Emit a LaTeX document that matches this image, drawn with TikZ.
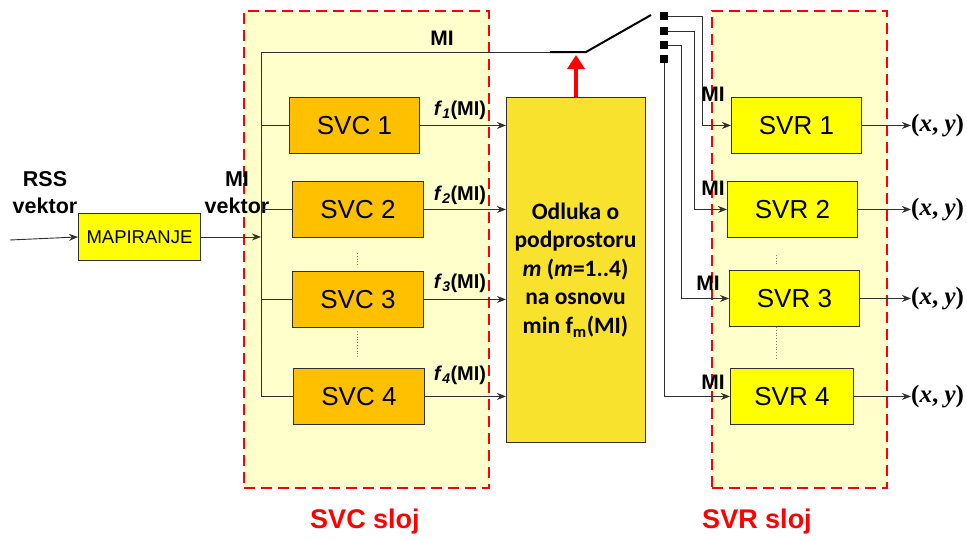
\documentclass[tikz,border=0pt]{standalone}
\usepackage{fontspec}
\setmainfont{Liberation Sans}
\newfontfamily\calfont{Carlito}
\newfontfamily\timesfont{Liberation Serif}
\usetikzlibrary{arrows.meta,calc}
\definecolor{layerbg}{HTML}{FFFFCC}
\definecolor{svcfill}{HTML}{FFC000}
\definecolor{decfill}{HTML}{F9E22E}
\definecolor{svrfill}{HTML}{FFFF00}
\definecolor{linegray}{HTML}{303030}
\begin{document}
\begin{tikzpicture}[x=1pt,y=-1pt,
  layer/.style={draw=red,fill=layerbg,dash pattern=on 11pt off 6pt,line width=1.8pt},
  svcbox/.style={draw=linegray,fill=svcfill,line width=0.9pt,minimum width=130pt,minimum height=56pt,anchor=north west,inner sep=0pt,font=\fontsize{26}{30}\selectfont},
  svrbox/.style={draw=linegray,fill=svrfill,line width=0.9pt,minimum height=56pt,anchor=north west,inner sep=0pt,font=\fontsize{26}{30}\selectfont},
  arr/.style={draw=linegray,line width=0.9pt,-{Stealth[length=9pt,width=7pt]}},
  wire/.style={draw=linegray,line width=0.9pt},
  lbl/.style={font=\bfseries\fontsize{21}{22}\selectfont,inner sep=0pt},
  flbl/.style={font=\bfseries\fontsize{20}{22}\selectfont,inner sep=0pt},
  outlbl/.style={font=\timesfont\bfseries\fontsize{25}{28}\selectfont,inner sep=0pt,anchor=west},
  contact/.style={fill=black,minimum size=8pt,inner sep=0pt},
  dots/.style={draw=gray,line width=0.8pt,dotted},
  layername/.style={font=\bfseries\fontsize{27}{30}\selectfont,text=red}
]
\useasboundingbox (0,0) rectangle (967,541);
% layers
\node[layer,minimum width=245pt,minimum height=477pt,anchor=north west,inner sep=0pt] (svclayer) at (243,10) {};
\node[layer,minimum width=175pt,minimum height=477pt,anchor=north west,inner sep=0pt] (svrlayer) at (711,10) {};
\node[layername] (svcname) at (365,522) {SVC sloj};
\node[layername] (svrname) at (757,522) {SVR sloj};
% input
\node[draw=linegray,fill=svrfill,line width=0.9pt,minimum width=122pt,minimum height=47pt,anchor=north west,inner sep=0pt,font=\fontsize{18.5}{20}\selectfont] (map) at (78,213) {MAPIRANJE};
\coordinate (in) at (10,240);
\draw[arr] (in) -- (map.west);
\node[font=\bfseries\fontsize{21.5}{27}\selectfont,align=center,inner sep=0pt] (rss) at (45,193) {RSS\\vektor};
\node[font=\bfseries\fontsize{21.5}{27}\selectfont,align=center,inner sep=0pt] (miv) at (237,193) {MI\\vektor};
% bus
\coordinate (bustop) at (261,52);
\coordinate (busbot) at (261,396);
\draw[wire] (bustop) -- (busbot);
\draw[arr] (map.east) -- (map.east -| bustop);
% SVC boxes
\node[svcbox] (svc1) at (289,97) {SVC 1};
\node[svcbox,minimum width=131pt] (svc2) at (292,181) {SVC 2};
\node[svcbox,minimum width=131pt] (svc3) at (292,271) {SVC 3};
\node[svcbox,minimum width=131pt] (svc4) at (293,368) {SVC 4};
\foreach \s in {svc1,svc2,svc3,svc4}{\draw[wire] (\s.west -| bustop) -- (\s.west);}
\draw[dots] (357,253) -- (357,267);
\draw[dots] (357,331) -- (357,358);
% decision
\node[draw=linegray,fill=decfill,line width=0.9pt,minimum width=139pt,minimum height=345pt,anchor=north west,inner sep=0pt] (dec) at (506,97) {};
\node[font=\calfont\bfseries\fontsize{23.5}{28.5}\selectfont,align=center,inner sep=0pt] (dectext) at (575.5,270) {Odluka o\\podprostoru\\\textit{m} (\textit{m}=1..4)\\na osnovu\\min f\textsubscript{m}(MI)};
\foreach \s/\i in {svc1/1,svc2/2,svc3/3,svc4/4}{\draw[arr] (\s.east) -- (\s.east -| dec.west);}
\node[flbl] (f1) at (460,110) {\textit{f}\textsubscript{\textit{1}}(MI)};
\node[flbl] (f2) at (460,195) {\textit{f}\textsubscript{\textit{2}}(MI)};
\node[flbl] (f3) at (460,283) {\textit{f}\textsubscript{\textit{3}}(MI)};
\node[flbl] (f4) at (460,375) {\textit{f}\textsubscript{\textit{4}}(MI)};
% switch
\coordinate (swA) at (550,52);
\coordinate (swB) at (586,52);
\coordinate (swC) at (651,15);
\draw[wire] (bustop) -- (swA);
\draw[line width=2pt,black] (swA) -- (swB) -- (swC);
\node[lbl] (mitop) at (442,38) {MI};
\draw[red,line width=4pt,-{Triangle[length=14pt,width=17pt]}] (dec.north -| 576,0) -- (576,55);
% contacts
\node[contact] (c1) at (664,16) {};
\node[contact] (c2) at (664,31) {};
\node[contact] (c3) at (664,45) {};
\node[contact] (c4) at (664,59) {};
% SVR boxes
\node[svrbox,minimum width=130pt] (svr1) at (731,97) {SVR 1};
\node[svrbox,minimum width=130pt] (svr2) at (727,181) {SVR 2};
\node[svrbox,minimum width=130pt] (svr3) at (729,270) {SVR 3};
\node[svrbox,minimum width=123pt] (svr4) at (730,368) {SVR 4};
\draw[dots] (776,255) -- (776,266);
\draw[dots] (776,327) -- (776,358);
\draw[arr] (c1.east) -- (702,16) |- (svr1.west);
\draw[arr] (c2.east) -- (694,31) |- (svr2.west);
\draw[arr] (c3.east) -- (681,45) |- (svr3.west);
\draw[arr] (c4.south) |- (svr4.west);
\node[lbl] (mi1) at (713,94) {MI};
\node[lbl] (mi2) at (713,188) {MI};
\node[lbl] (mi3) at (708,283) {MI};
\node[lbl] (mi4) at (713,382) {MI};
% outputs
\foreach \s/\n in {svr1/o1,svr2/o2,svr3/o3,svr4/o4}{
  \node[outlbl] (\n) at (\s.east -| 911,0) {(\textit{x}, \textit{y})};
  \draw[arr] (\s.east) -- (\n.west);
}
\end{tikzpicture}
\end{document}
